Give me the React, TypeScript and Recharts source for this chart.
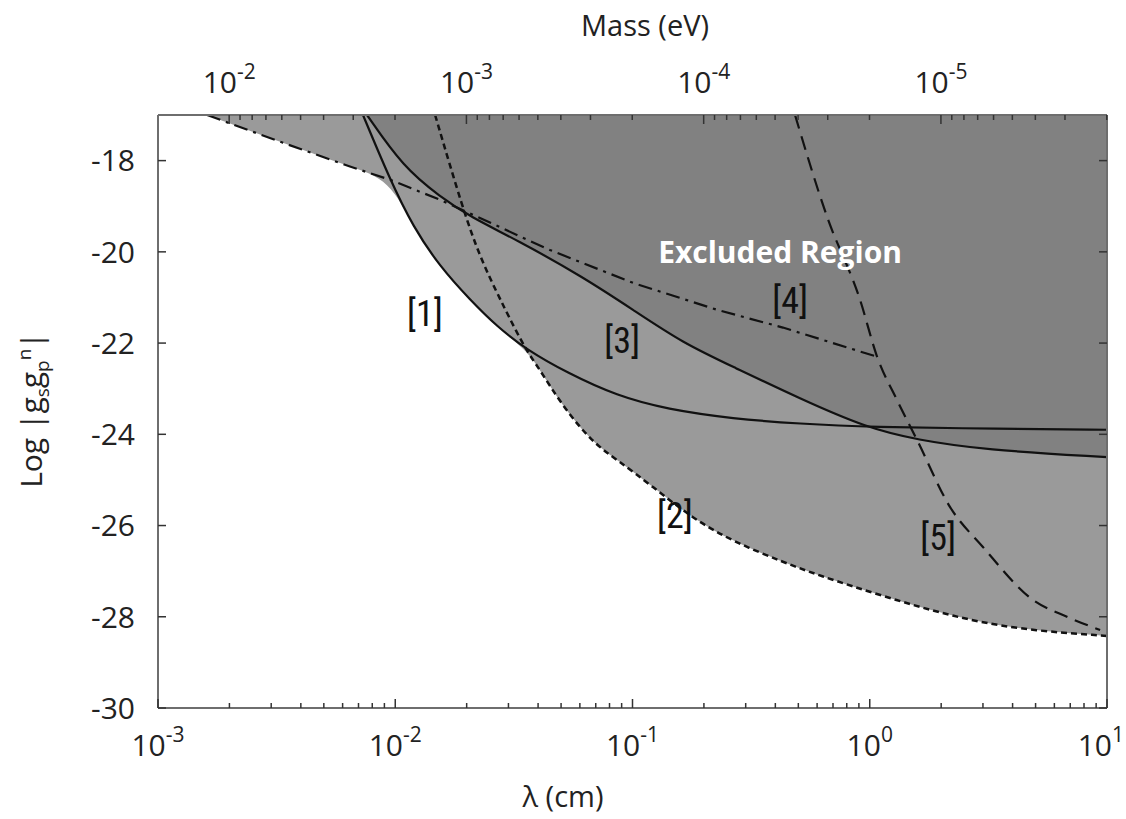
import React from 'react';
import { ComposedChart, Area, Line, XAxis, YAxis, ReferenceDot } from 'recharts';

// x = log10(λ / cm), y = Log|gs gp^n|
const curve1 = [
  { x: -2.136, y: -17.0 }, { x: -2.022, y: -18.42 }, { x: -1.925, y: -19.45 }, { x: -1.811, y: -20.33 },
  { x: -1.685, y: -21.05 }, { x: -1.571, y: -21.64 }, { x: -1.445, y: -22.15 }, { x: -1.276, y: -22.65 },
  { x: -1.065, y: -23.16 }, { x: -0.855, y: -23.45 }, { x: -0.576, y: -23.66 }, { x: -0.294, y: -23.77 },
  { x: 0.001, y: -23.84 }, { x: 0.549, y: -23.88 }, { x: 1.0, y: -23.9 },
];
const curve2 = [
  { x: -1.832, y: -17.0 }, { x: -1.714, y: -19.08 }, { x: -1.643, y: -20.11 }, { x: -1.571, y: -20.9 },
  { x: -1.529, y: -21.34 }, { x: -1.45, y: -22.15 }, { x: -1.398, y: -22.52 }, { x: -1.293, y: -23.4 },
  { x: -1.166, y: -24.19 }, { x: -1.065, y: -24.56 }, { x: -0.914, y: -25.15 }, { x: -0.745, y: -25.85 },
  { x: -0.576, y: -26.35 }, { x: -0.366, y: -26.8 }, { x: -0.222, y: -27.08 }, { x: 0.056, y: -27.55 },
  { x: 0.338, y: -27.98 }, { x: 0.621, y: -28.28 }, { x: 1.0, y: -28.42 },
];
const curve3 = [
  { x: -2.119, y: -17.0 }, { x: -1.967, y: -18.14 }, { x: -1.811, y: -18.79 }, { x: -1.685, y: -19.23 },
  { x: -1.487, y: -19.74 }, { x: -1.209, y: -20.55 }, { x: -0.998, y: -21.27 }, { x: -0.787, y: -22.0 },
  { x: -0.576, y: -22.52 }, { x: -0.294, y: -23.22 }, { x: -0.012, y: -23.86 }, { x: 0.199, y: -24.12 },
  { x: 0.477, y: -24.34 }, { x: 1.0, y: -24.5 },
];
const curve4 = [
  { x: -2.793, y: -17.0 }, { x: -2.473, y: -17.61 }, { x: -2.191, y: -18.13 }, { x: -2.022, y: -18.42 },
  { x: -1.811, y: -18.86 }, { x: -1.655, y: -19.23 }, { x: -1.348, y: -19.96 }, { x: -0.998, y: -20.68 },
  { x: -0.644, y: -21.27 }, { x: -0.366, y: -21.66 }, { x: 0.031, y: -22.3 },
];
const curve5 = [
  { x: -0.315, y: -17.0 }, { x: -0.18, y: -19.23 }, { x: -0.041, y: -21.05 }, { x: 0.031, y: -22.3 },
  { x: 0.115, y: -23.25 }, { x: 0.199, y: -24.12 }, { x: 0.338, y: -25.59 }, { x: 0.477, y: -26.47 },
  { x: 0.688, y: -27.63 }, { x: 0.831, y: -28.0 }, { x: 0.971, y: -28.29 },
];

const curveLabels = [
  { text: '[1]', x: -1.875, y: -21.34 },
  { text: '[2]', x: -0.821, y: -25.77 },
  { text: '[3]', x: -1.044, y: -21.93 },
  { text: '[4]', x: -0.336, y: -21.05 },
  { text: '[5]', x: 0.288, y: -26.25 },
];
const regionLabel = { text: 'Excluded Region', x: -0.378, y: -20.0 };

const lambdaExponents = [-3, -2, -1, 0, 1];
const massExponents = [-2, -3, -4, -5];
const yTicks = [-30, -28, -26, -24, -22, -20, -18];

const TOP = -17;
const BOTTOM = -30;
const HBARC = -4.7; // log10(hbar*c in eV cm): x = HBARC - log10(mass)

// outer edge of the excluded region: [4] until it meets [1], then [1] until [2], then [2]
const edge = [
  ...curve4.filter((p) => p.x <= -2.022),
  ...curve1.filter((p) => p.x > -2.022 && p.x < -1.45),
  ...curve2.filter((p) => p.x >= -1.45),
];

const lambdaMinor: number[] = [];
for (let n = -3; n < 1; n++) for (let k = 2; k <= 9; k++) lambdaMinor.push(n + Math.log10(k));
const massMinor: number[] = [];
for (let n = -6; n < -1; n++)
  for (let k = 2; k <= 9; k++) {
    const v = HBARC - (n + Math.log10(k));
    if (v > -3 && v < 1) massMinor.push(v);
  }
const massMajor = massExponents.map((e) => HBARC - e);

const font = "'Open Sans', 'DejaVu Sans', sans-serif";
const narrow = "'Liberation Sans Narrow', 'Roboto Condensed', 'Liberation Sans', sans-serif";
const axisColor = '#6e6e6e';

const BottomTick = (props: any) => {
  const { x, y, payload } = props;
  const exp = lambdaExponents.find((e) => Math.abs(e - payload.value) < 1e-6);
  const major = exp !== undefined;
  const last = exp === 1;
  return (
    <g>
      <line x1={x} x2={x} y1={y} y2={y - (major ? 9 : 5)} stroke="#333" strokeWidth={1.5} />
      {major && (
        <text
          x={last ? x + 17 : x}
          y={y + 48}
          textAnchor={last ? 'end' : 'middle'}
          fontSize={30}
          fill="#222"
          fontFamily={font}
        >
          10<tspan dy={-14} fontSize={21}>{exp}</tspan>
        </text>
      )}
    </g>
  );
};

const TopTick = (props: any) => {
  const { x, y, payload } = props;
  const i = massMajor.findIndex((m) => Math.abs(m - payload.value) < 1e-6);
  const major = i >= 0;
  return (
    <g>
      <line x1={x} x2={x} y1={y} y2={y + (major ? 9 : 5)} stroke="#333" strokeWidth={1.5} />
      {major && (
        <text x={x} y={y - 22} textAnchor="middle" fontSize={30} fill="#222" fontFamily={font}>
          10<tspan dy={-14} fontSize={21}>{massExponents[i]}</tspan>
        </text>
      )}
    </g>
  );
};

const LeftTick = (props: any) => {
  const { x, y, payload } = props;
  return (
    <g>
      <line x1={x} x2={x + 8} y1={y} y2={y} stroke="#333" strokeWidth={1.5} />
      <text x={x - 23} y={y} dy="0.36em" textAnchor="end" fontSize={30} fill="#222" fontFamily={font}>
        {payload.value}
      </text>
    </g>
  );
};

const RightTick = (props: any) => {
  const { x, y } = props;
  return <line x1={x} x2={x - 8} y1={y} y2={y} stroke="#333" strokeWidth={1.5} />;
};

const App: React.FC = () => {
  return (
    <div style={{ position: 'absolute', left: 0, top: 0, width: 1126, height: 819, fontFamily: font }}>
      <ComposedChart width={1126} height={819} margin={{ top: 65, right: 18, bottom: 61, left: 88 }}>
        <XAxis
          xAxisId={0}
          dataKey="x"
          type="number"
          domain={[-3, 1]}
          allowDataOverflow
          ticks={[...lambdaExponents, ...lambdaMinor]}
          tick={<BottomTick />}
          tickSize={0}
          tickMargin={0}
          tickLine={false}
          interval={0}
          height={50}
          axisLine={{ stroke: axisColor, strokeWidth: 2 }}
        />
        <XAxis
          xAxisId="mass"
          dataKey="x"
          orientation="top"
          type="number"
          domain={[-3, 1]}
          allowDataOverflow
          ticks={[...massMajor, ...massMinor]}
          tick={<TopTick />}
          tickSize={0}
          tickMargin={0}
          tickLine={false}
          interval={0}
          height={50}
          axisLine={{ stroke: axisColor, strokeWidth: 2 }}
        />
        <YAxis
          yAxisId={0}
          type="number"
          domain={[BOTTOM, TOP]}
          allowDataOverflow
          ticks={yTicks}
          tick={<LeftTick />}
          tickSize={0}
          tickMargin={0}
          tickLine={false}
          interval={0}
          width={70}
          axisLine={{ stroke: axisColor, strokeWidth: 2 }}
        />
        <YAxis
          yAxisId="right"
          orientation="right"
          type="number"
          domain={[BOTTOM, TOP]}
          allowDataOverflow
          ticks={yTicks}
          tick={<RightTick />}
          tickSize={0}
          tickMargin={0}
          tickLine={false}
          interval={0}
          width={1}
          axisLine={{ stroke: axisColor, strokeWidth: 2 }}
        />

        <Area
          data={edge}
          dataKey={(p: any) => [p.y, TOP]}
          type="basis"
          fill="#9a9a9a"
          fillOpacity={1}
          stroke="none"
          isAnimationActive={false}
        />
        <Area
          data={curve3}
          dataKey={(p: any) => [p.y, TOP]}
          type="basis"
          fill="#818181"
          fillOpacity={1}
          stroke="none"
          isAnimationActive={false}
        />

        <Line data={curve1} dataKey="y" type="basis" stroke="#111" strokeWidth={2.2} dot={false} isAnimationActive={false} />
        <Line data={curve2} dataKey="y" type="basis" stroke="#111" strokeWidth={2.5} strokeDasharray="6 4" dot={false} isAnimationActive={false} />
        <Line data={curve3} dataKey="y" type="basis" stroke="#111" strokeWidth={2.2} dot={false} isAnimationActive={false} />
        <Line data={curve4} dataKey="y" type="linear" stroke="#111" strokeWidth={2.2} strokeDasharray="14 6 3 6" dot={false} isAnimationActive={false} />
        <Line data={curve5} dataKey="y" type="monotone" stroke="#111" strokeWidth={2.2} strokeDasharray="14 8" dot={false} isAnimationActive={false} />
        {/* invisible series so the mass axis on top is laid out */}
        <Line xAxisId="mass" data={curve1} dataKey="y" stroke="none" dot={false} activeDot={false} isAnimationActive={false} />

        {curveLabels.map((l) => (
          <ReferenceDot
            key={l.text}
            x={l.x}
            y={l.y}
            r={0}
            ifOverflow="visible"
            shape={(p: any) => (
              <text x={p.cx} y={p.cy} dy="0.36em" textAnchor="middle" fontSize={36} fill="#111" fontFamily={narrow}>
                {l.text}
              </text>
            )}
          />
        ))}
        <ReferenceDot
          x={regionLabel.x}
          y={regionLabel.y}
          r={0}
          ifOverflow="visible"
          shape={(p: any) => (
            <text x={p.cx} y={p.cy} dy="0.36em" textAnchor="middle" fontSize={30} fontWeight={700} fill="#fff" fontFamily={font}>
              {regionLabel.text}
            </text>
          )}
        />
      </ComposedChart>

      <div style={{ position: 'absolute', left: 645, top: 24, transform: 'translate(-50%, -50%)', fontSize: 29, color: '#222', whiteSpace: 'nowrap' }}>
        Mass (eV)
      </div>
      <div style={{ position: 'absolute', left: 563, top: 795, transform: 'translate(-50%, -50%)', fontSize: 29, color: '#222', whiteSpace: 'nowrap' }}>
        λ (cm)
      </div>
      <div
        style={{
          position: 'absolute',
          left: 33,
          top: 410,
          transform: 'translate(-50%, -50%) rotate(-90deg)',
          fontSize: 30,
          color: '#222',
          whiteSpace: 'nowrap',
          lineHeight: 1,
        }}
      >
        Log |g<sub style={{ fontSize: 19 }}>s</sub>g<sub style={{ fontSize: 19 }}>p</sub>
        <sup style={{ fontSize: 19 }}>n</sup>|
      </div>
    </div>
  );
};

export default App;
